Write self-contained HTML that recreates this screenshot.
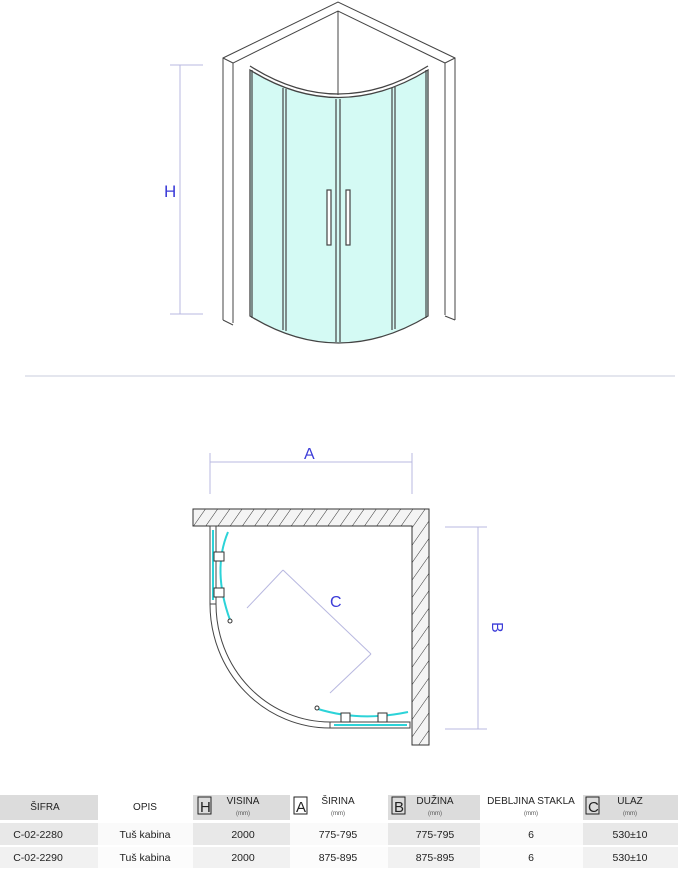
<!DOCTYPE html>
<html><head><meta charset="utf-8"><style>
body{margin:0;background:#fff;width:678px;height:870px;overflow:hidden;font-family:"Liberation Sans",sans-serif}
svg{position:absolute;left:0;top:0}
</style></head><body>
<svg width="678" height="870" viewBox="0 0 678 870">
<defs>
<pattern id="h" patternUnits="userSpaceOnUse" width="10" height="10" patternTransform="rotate(35)">
<rect width="10" height="10" fill="#f4f4f4"/><line x1="0" y1="0" x2="0" y2="10" stroke="#333" stroke-width="1"/>
</pattern>
</defs>
<!-- top 3D view walls -->
<g fill="none" stroke="#444" stroke-width="1">
<path d="M223,320 L223,58 L338,2 L455,58 L455,320"/>
<path d="M233,323 L233,63 L338,11 L445,63 L445,315"/>
<line x1="223" y1="58" x2="233" y2="63"/><line x1="455" y1="58" x2="445" y2="63"/>
<line x1="223" y1="320" x2="233" y2="325"/><line x1="455" y1="320" x2="445" y2="316"/>
<line x1="338" y1="11" x2="338" y2="95"/>
</g>
<!-- glass -->
<path d="M250,70 Q338,125 428,70 L428,316 Q338,370 250,316 Z" fill="#d4faf4" stroke="#444" stroke-width="1.3"/>
<path d="M250,66 Q338,122 428,66" fill="none" stroke="#444" stroke-width="1.3"/>
<g stroke="#444" stroke-width="1.2" fill="none">
<line x1="252" y1="70" x2="252" y2="318"/><line x1="426" y1="70" x2="426" y2="318"/>
<line x1="283" y1="88" x2="283" y2="330"/><line x1="286" y1="89" x2="286" y2="331"/>
<line x1="336" y1="99" x2="336" y2="342"/><line x1="340" y1="99" x2="340" y2="342"/>
<line x1="392" y1="88" x2="392" y2="330"/><line x1="395" y1="87" x2="395" y2="329"/>
<rect x="327" y="190" width="4" height="55" fill="#fff"/>
<rect x="346" y="190" width="4" height="55" fill="#fff"/>
</g>
<!-- H dim -->
<g stroke="#b8b8e0" stroke-width="1"><line x1="180" y1="65" x2="180" y2="314"/><line x1="170" y1="65" x2="203" y2="65"/><line x1="170" y1="314" x2="203" y2="314"/></g>
<text x="164" y="197" font-size="17" fill="#3b3bd8">H</text>
<line x1="25" y1="376" x2="675" y2="376" stroke="#c8ccdc" stroke-width="1"/>
<!-- plan -->
<g stroke="#b8b8e0" stroke-width="1">
<line x1="210" y1="462" x2="412" y2="462"/><line x1="210" y1="453" x2="210" y2="494"/><line x1="412" y1="453" x2="412" y2="494"/>
<line x1="478" y1="527" x2="478" y2="729"/><line x1="445" y1="527" x2="487" y2="527"/><line x1="445" y1="729" x2="487" y2="729"/>
<line x1="283" y1="570" x2="371" y2="654"/><line x1="247" y1="608" x2="283" y2="570"/><line x1="371" y1="654" x2="330" y2="693"/>
</g>
<text x="304" y="459" font-size="16" fill="#3b3bd8">A</text>
<text x="330" y="607" font-size="16" fill="#3b3bd8">C</text>
<text x="480" y="622" font-size="16" fill="#3b3bd8" transform="rotate(90 486 628)">B</text>
<path d="M193,509 L429,509 L429,745 L412,745 L412,526 L193,526 Z" fill="url(#h)" stroke="#333" stroke-width="1"/>
<g fill="none" stroke="#444" stroke-width="1">
<rect x="210" y="526" width="6" height="78"/>
<rect x="330" y="722" width="80" height="6"/>
<path d="M210,604 A120,124 0 0 0 330,728"/>
<path d="M216,604 A114,118 0 0 0 330,722"/>
</g>
<g stroke="#2cd3d8" stroke-width="2" fill="none">
<line x1="213" y1="530" x2="213" y2="600"/><line x1="334" y1="725" x2="407" y2="725"/>
<path d="M228,532 Q212,570 230,620"/><path d="M318,709 Q360,722 408,712"/>
</g>
<g fill="#fff" stroke="#333" stroke-width="1">
<rect x="214" y="552" width="10" height="9"/><rect x="214" y="588" width="10" height="9"/>
<rect x="341" y="713" width="9" height="9"/><rect x="378" y="713" width="9" height="9"/>
<circle cx="230" cy="621" r="2"/><circle cx="317" cy="708" r="2"/>
</g>
<!-- table -->
<g>
<rect x="0" y="795" width="98" height="25" fill="#dcdcdc"/>
<rect x="193" y="795" width="97" height="25" fill="#dcdcdc"/>
<rect x="388" y="795" width="92" height="25" fill="#dcdcdc"/>
<rect x="583" y="795" width="95" height="25" fill="#dcdcdc"/>
<rect x="0" y="823" width="678" height="22" fill="#e8e8e8"/>
<rect x="98" y="823" width="95" height="22" fill="#fafafa"/>
<rect x="290" y="823" width="98" height="22" fill="#fafafa"/>
<rect x="480" y="823" width="103" height="22" fill="#fafafa"/>
<rect x="0" y="847" width="678" height="21" fill="#f1f1f1"/>
<rect x="98" y="847" width="95" height="21" fill="#fcfcfc"/>
<rect x="290" y="847" width="98" height="21" fill="#fcfcfc"/>
<rect x="480" y="847" width="103" height="21" fill="#fcfcfc"/>
</g>
<g fill="none" stroke="#222" stroke-width="1">
<rect x="198" y="797" width="13" height="17"/><rect x="294" y="797" width="13" height="17"/>
<rect x="392" y="797" width="13" height="17"/><rect x="586" y="797" width="13" height="17"/>
</g>
<g font-size="15" fill="#222"><text x="200" y="812">H</text><text x="296" y="812">A</text><text x="394" y="812">B</text><text x="588" y="812">C</text></g>
<g font-size="10" fill="#222" text-anchor="middle">
<text x="45" y="810">ŠIFRA</text><text x="145" y="810">OPIS</text>
<text x="243" y="804">VISINA</text><text x="338" y="804">ŠIRINA</text><text x="435" y="804">DUŽINA</text>
<text x="531" y="804">DEBLJINA STAKLA</text><text x="630" y="804">ULAZ</text>
</g>
<g font-size="6" fill="#555" text-anchor="middle">
<text x="243" y="815">(mm)</text><text x="338" y="815">(mm)</text><text x="435" y="815">(mm)</text><text x="531" y="815">(mm)</text><text x="630" y="815">(mm)</text>
</g>
<g font-size="10.5" fill="#222" text-anchor="middle">
<text x="38" y="838">C-02-2280</text><text x="145" y="838">Tuš kabina</text><text x="243" y="838">2000</text><text x="338" y="838">775-795</text><text x="435" y="838">775-795</text><text x="531" y="838">6</text><text x="630" y="838">530±10</text>
<text x="38" y="861">C-02-2290</text><text x="145" y="861">Tuš kabina</text><text x="243" y="861">2000</text><text x="338" y="861">875-895</text><text x="435" y="861">875-895</text><text x="531" y="861">6</text><text x="630" y="861">530±10</text>
</g>
</svg>
</body></html>
